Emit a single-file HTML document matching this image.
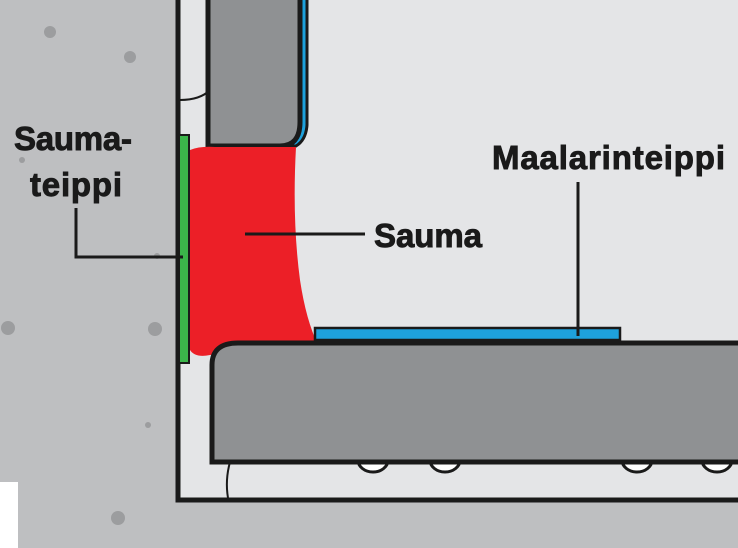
<!DOCTYPE html>
<html><head><meta charset="utf-8"><style>
html,body{margin:0;padding:0;width:738px;height:548px;overflow:hidden;background:#bebfc1}
svg{display:block}
text{font-family:"Liberation Sans Narrow","Liberation Sans",sans-serif;font-weight:bold;fill:#1a1a1a;stroke:#1a1a1a;stroke-width:0.9}
</style></head><body>
<svg width="738" height="548" viewBox="0 0 738 548">
<rect width="738" height="548" fill="#bebfc1"/>
<g fill="#9c9d9f">
<circle cx="50" cy="32" r="6"/><circle cx="130" cy="57" r="6"/><circle cx="22" cy="160" r="3"/>
<circle cx="8" cy="328" r="7"/><circle cx="155" cy="329" r="7"/><circle cx="157" cy="256" r="3"/>
<circle cx="148" cy="425" r="3"/><circle cx="118" cy="518" r="7"/>
</g>
<rect x="0" y="482" width="18" height="66" fill="#fff"/>
<rect x="178" y="-5" width="565" height="505" fill="#e4e5e7" stroke="#1a1a1a" stroke-width="5"/>
<path d="M180 100 Q200 100 210 90" fill="none" stroke="#1a1a1a" stroke-width="2"/>
<path d="M230 462 Q225 480 228 498" fill="none" stroke="#1a1a1a" stroke-width="2"/>
<g fill="#fff" stroke="#1a1a1a" stroke-width="3">
<path d="M358 460 a15 12 0 0 0 30 0"/><path d="M430 460 a15 12 0 0 0 30 0"/>
<path d="M622 460 a15 12 0 0 0 30 0"/><path d="M702 460 a15 12 0 0 0 30 0"/>
</g>
<path d="M300 -5 L307 -5 L307 125 Q306 140 296 146 L290 146 Q298 138 300 125 Z" fill="#1ea1dc" stroke="#1a1a1a" stroke-width="3"/>
<path d="M208 -5 L300 -5 L300 122 Q300 146 280 146 L208 146 Z" fill="#8f9193" stroke="#1a1a1a" stroke-width="5"/>
<path d="M190 150 Q200 146 215 147 L296 147 Q292 220 300 280 Q306 320 318 345 L210 355 Q195 358 190 350 Z" fill="#ec1f27"/>
<rect x="179" y="135" width="10" height="228" fill="#3bb54a" stroke="#1a1a1a" stroke-width="2"/>
<rect x="315" y="328" width="305" height="12" fill="#1ea1dc" stroke="#1a1a1a" stroke-width="2.5"/>
<path d="M212 462 L212 365 Q212 343 238 343 L745 343 L745 462 Z" fill="#8f9193" stroke="#1a1a1a" stroke-width="5"/>
<g stroke="#1a1a1a" stroke-width="3" fill="none">
<path d="M76 208 L76 257 L183 257"/>
<path d="M245 234 L365 234"/>
<path d="M578 182 L578 336"/>
</g>
<text x="14" y="150" font-size="33" textLength="118">Sauma-</text>
<text x="30" y="196" font-size="33" textLength="92">teippi</text>
<text x="374" y="247" font-size="33" textLength="108">Sauma</text>
<text x="492" y="169" font-size="33" textLength="233">Maalarinteippi</text>
</svg>
</body></html>
